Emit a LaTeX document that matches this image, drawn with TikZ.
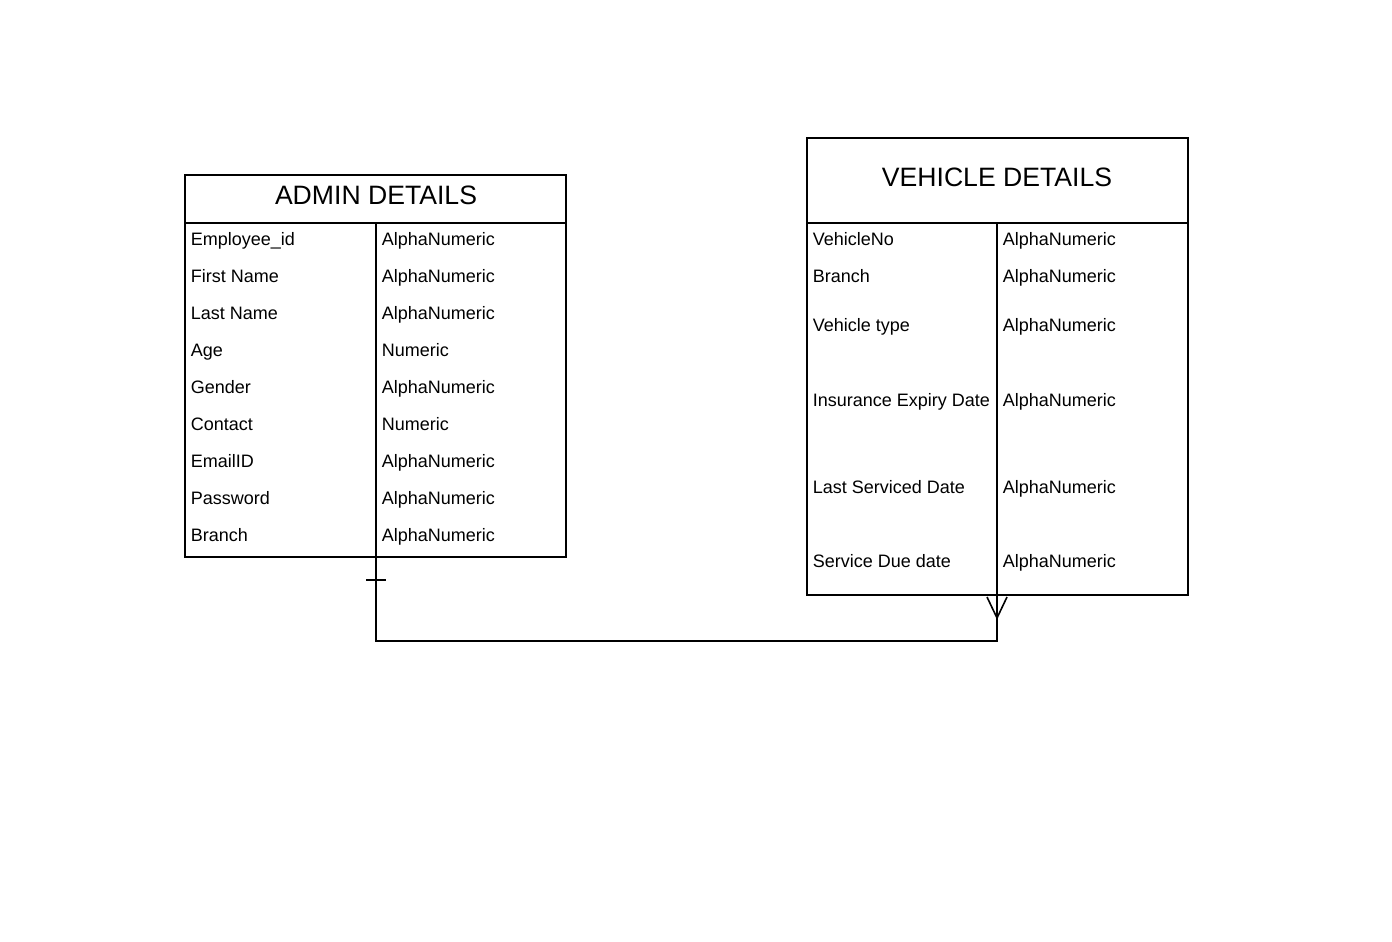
\documentclass[tikz,border=0pt]{standalone}
\usepackage{fontspec}
\setmainfont{Liberation Sans}
\begin{document}
\begin{tikzpicture}[x=1pt,y=-1pt,line width=1.6pt,
  cell/.style={anchor=base west,inner sep=0pt,font=\fontsize{18}{20}\selectfont},
  ttl/.style={anchor=base,inner sep=0pt,font=\fontsize{26.6}{30}\selectfont},
  tbl/.style={draw,minimum width=381pt,inner sep=0pt},
  sep/.style={line width=2.6pt}]
\useasboundingbox (0,0) rectangle (1392,942);
% ADMIN DETAILS
\node[tbl,minimum height=382pt] (admin) at (375.5,366) {};
\draw[sep] (185,223) -- (566,223);
\draw (376,223) -- (376,557);
\node[ttl] (at) at (376,204.5) {ADMIN DETAILS};
\foreach \i/\a/\b in {0/Employee\_id/AlphaNumeric,1/First Name/AlphaNumeric,2/Last Name/AlphaNumeric,3/Age/Numeric,4/Gender/AlphaNumeric,5/Contact/Numeric,6/EmailID/AlphaNumeric,7/Password/AlphaNumeric,8/Branch/AlphaNumeric}{
  \node[cell] (al\i) at (190,245+37*\i) {\a};
  \node[cell] (ar\i) at (381,245+37*\i) {\b};
}
% VEHICLE DETAILS
\node[tbl,minimum height=457pt] (vehicle) at (997.5,366.5) {};
\draw[sep] (807,223) -- (1188,223);
\draw (997,223) -- (997,595);
\node[ttl] (vt) at (997,186.5) {VEHICLE DETAILS};
\foreach \i/\y/\a in {0/239/VehicleNo,1/276/Branch,2/325/Vehicle type,3/400/Insurance Expiry Date,4/487/Last Serviced Date,5/561/Service Due date}{
  \node[cell] (vl\i) at (812,\y+6) {\a};
  \node[cell] (vr\i) at (1002,\y+6) {AlphaNumeric};
}
% connector
\coordinate (as) at (376,557);
\coordinate (vs) at (997,595);
\coordinate (bend) at (376,641);
\draw (as) -- (bend) -| (vs);
% one mark
\coordinate (b1) at (366,580);
\coordinate (b2) at (386,580);
\draw[line width=2.4pt] (b1) -- (b2);
% crow's foot
\coordinate (cf) at (997,618);
\coordinate (c1) at (987,597);
\coordinate (c2) at (1007,597);
\draw (c1) -- (cf) -- (c2);
\end{tikzpicture}
\end{document}
